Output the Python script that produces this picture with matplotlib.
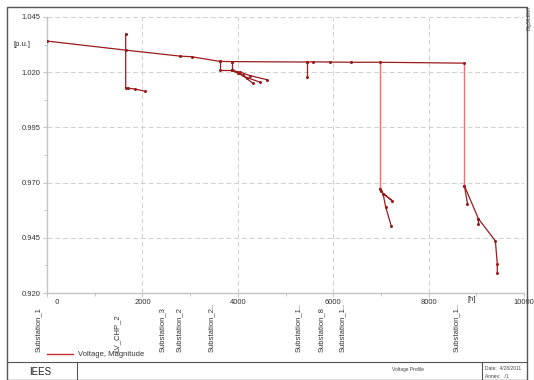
import matplotlib
matplotlib.use("Agg")
import matplotlib.pyplot as plt
import matplotlib.transforms as mtransforms
from matplotlib.patches import Rectangle
from matplotlib.lines import Line2D

plt.rcParams['font.family'] = ['Liberation Sans', 'DejaVu Sans']

# main feeder: distance [m], voltage [p.u.]
main_d = [0, 1650, 2780, 3035, 3620, 3870, 5450, 5575, 5930, 6375, 6980, 8750]
main_v = [1.0341, 1.0300, 1.0273, 1.0270, 1.0249, 1.0248, 1.0246, 1.0247, 1.0246, 1.0245, 1.0245, 1.0241]

# LV_CHP_2 branch
chp_d = [1650, 1650, 1700, 1840, 2050]
chp_v = [1.0373, 1.0127, 1.0127, 1.0124, 1.0114]

# cluster around 4000 m
c1_d = [3620, 3620, 3870, 3870]
c1_v = [1.0249, 1.0209, 1.0209, 1.0248]
c2_d = [3870, 4050, 4250, 4610]
c2_v = [1.0209, 1.0200, 1.0185, 1.0166]
c3_d = [3870, 4000, 4200, 4465]
c3_v = [1.0209, 1.0196, 1.0175, 1.0155]
c4_d = [3870, 4100, 4315]
c4_v = [1.0209, 1.0186, 1.0150]

# short drop at 5450 m
b5_d = [5450, 5450]
b5_v = [1.0246, 1.0180]

# transformer drops (drawn in light red)
t1_d = [6980, 6980]
t1_v = [1.0245, 0.9673]
t2_d = [8750, 8750]
t2_v = [1.0241, 0.9686]

# LV network behind 6980 m
l1_d = [6980, 7000, 7235, 7045, 7100, 7215]
l1_v = [0.9673, 0.9660, 0.9618, 0.9650, 0.9590, 0.9505]

# LV network behind 8750 m
l2_d = [8750, 9045, 9045]
l2_v = [0.9686, 0.9536, 0.9514]
l3_d = [8750, 8815]
l3_v = [0.9686, 0.9605]
l4_d = [9045, 9400, 9440, 9440]
l4_v = [0.9536, 0.9436, 0.9332, 0.9291]

bus_names = ['Substation_1', 'LV_CHP_2', 'Substation_3', 'Substation_2', 'Substation_2..',
             'Substation_1..', 'Substation_8', 'Substation_1..', 'Substation_1..']
bus_dist = [0, 1650, 2600, 2940, 3620, 5450, 5930, 6375, 8750]

y_ticks = [0.920, 0.945, 0.970, 0.995, 1.020, 1.045]
x_ticks = [0, 2000, 4000, 6000, 8000, 10000]

dark = '#9a1c1c'
light = '#ff6a6a'

fig = plt.figure(figsize=(5.34, 3.80), dpi=100)
ax = fig.add_axes([47 / 534, 1 - 293 / 380, 477 / 534, 276 / 380])

for d, v in [(main_d, main_v), (chp_d, chp_v), (c1_d, c1_v), (c2_d, c2_v), (c3_d, c3_v),
             (c4_d, c4_v), (b5_d, b5_v), (l1_d, l1_v), (l2_d, l2_v), (l3_d, l3_v), (l4_d, l4_v)]:
    ax.plot(d, v, color=dark, lw=0.9, marker='o', ms=1.2, zorder=3)
for d, v in [(t1_d, t1_v), (t2_d, t2_v)]:
    ax.plot(d, v, color=light, lw=1.0, zorder=2)

ax.set_xlim(0, 10000)
ax.set_ylim(0.920, 1.045)
ax.set_yticks(y_ticks)
ax.set_yticklabels(['%.3f' % t for t in y_ticks])
ax.set_yticks([0.9325, 0.9575, 0.9825, 1.0075, 1.0325], minor=True)
ax.set_xticks(x_ticks)
ax.set_xticklabels(['          0', '2000', '4000', '6000', '8000', '10000'])
ax.set_xticks([1000, 3000, 5000, 7000, 9000], minor=True)
ax.tick_params(axis='both', which='major', labelsize=5.5, colors='#b8b8b8',
               labelcolor='#333333', length=3, width=0.6, pad=1.5)
ax.tick_params(axis='both', which='minor', colors='#b8b8b8', length=2, width=0.6)
ax.grid(True, which='major', color='#d0d0d0', ls=(0, (5, 3)), lw=0.7)
for s in ['top', 'right']:
    ax.spines[s].set_visible(False)
for s in ['left', 'bottom']:
    ax.spines[s].set_color('#c4c4c4')
    ax.spines[s].set_linewidth(1.0)
ax.set_facecolor('white')

# units
ax.text(-0.035, 1.0325, '[p.u.]', transform=mtransforms.blended_transform_factory(ax.transAxes, ax.transData),
        ha='right', va='center', fontsize=5.5, color='#333333')
ax.text(8900, -0.012, '[h]', transform=mtransforms.blended_transform_factory(ax.transData, ax.transAxes),
        ha='center', va='top', fontsize=5.5, color='#333333')

# bus labels
blend = mtransforms.blended_transform_factory(ax.transData, fig.transFigure)
for name, d in zip(bus_names, bus_dist):
    ax.text(d - 100, 1 - 352 / 380, name, transform=blend, rotation=90,
            ha='right', va='bottom', fontsize=5.5, color='#333333', clip_on=False)

# legend line
fig.add_artist(Line2D([47 / 534, 73 / 534], [1 - 354 / 380] * 2, color='#c03030', lw=1.0))
fig.text(78 / 534, 1 - 354 / 380, 'Voltage, Magnitude', fontsize=5.5, va='center', color='#333333')

# frame and title block
fig.add_artist(Rectangle((7 / 534, 0), 520 / 534, 373 / 380, fill=False, ec='#555555', lw=1.0,
                         transform=fig.transFigure))
fig.add_artist(Line2D([7 / 534, 527 / 534], [1 - 362 / 380] * 2, color='#555555', lw=0.8))
fig.add_artist(Line2D([77 / 534, 77 / 534], [0, 1 - 362 / 380], color='#555555', lw=0.8))
fig.add_artist(Line2D([482 / 534, 482 / 534], [0, 1 - 362 / 380], color='#555555', lw=0.8))
fig.text(40 / 534, 1 - 372 / 380, 'IEES', fontsize=7, ha='center', va='center', color='#222222')
fig.text(408 / 534, 1 - 369 / 380, 'Voltage Profile', fontsize=3.5, ha='center', va='center', color='#444444')
fig.text(485 / 534, 1 - 368 / 380, 'Date:  4/28/2011', fontsize=3.5, ha='left', va='center', color='#444444')
fig.text(485 / 534, 1 - 377 / 380, 'Annex:   /1', fontsize=3.5, ha='left', va='center', color='#444444')
fig.text(529 / 534, 1 - 18 / 380, 'DIgSILENT', fontsize=3.5, rotation=90, ha='center', va='center',
         color='#444444')

fig.savefig('out.png', dpi=100, facecolor='white')
